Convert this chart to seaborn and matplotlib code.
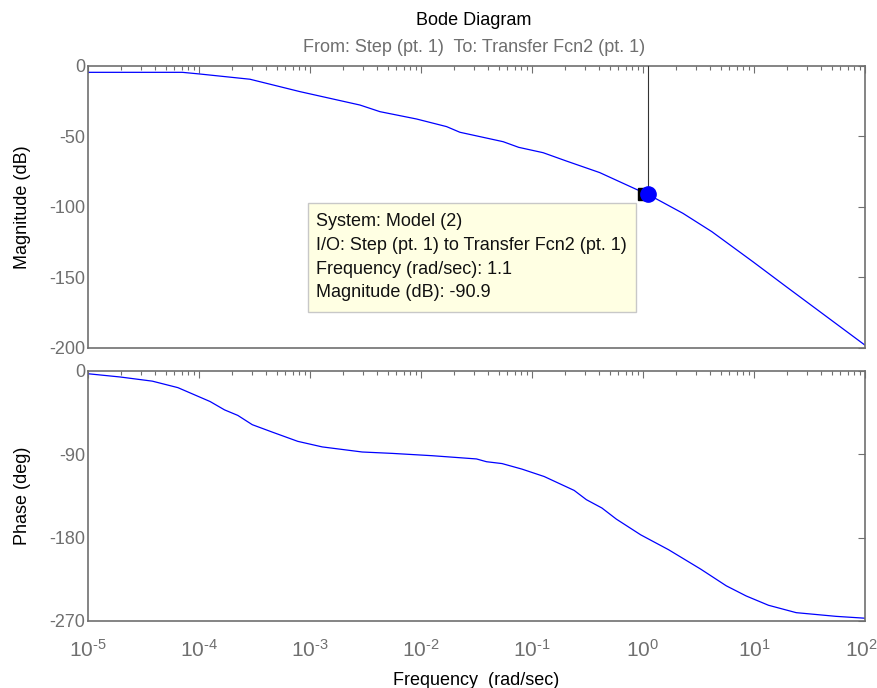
import numpy as np
import pandas as pd
import matplotlib
matplotlib.use("Agg")
import matplotlib.pyplot as plt
import matplotlib.transforms as mtransforms
from matplotlib.patches import Rectangle
from matplotlib.ticker import LogLocator, FixedLocator, FixedFormatter, NullFormatter
import seaborn as sns

# Magnitude response (frequency in rad/sec, magnitude in dB)
mag_freq = [1.0e-5, 7.08e-5, 1.02e-4, 2.88e-4, 8.13e-4, 2.82e-3, 4.27e-3, 9.12e-3,
            0.0170, 0.0224, 0.0550, 0.0759, 0.126, 0.204, 0.407, 0.871, 1.1,
            2.29, 4.17, 9.77, 19.5, 100.0]
mag_db = [-4.5, -4.5, -5.7, -9.4, -18.2, -27.7, -32.4, -37.6,
          -43.0, -47.0, -53.7, -57.7, -61.5, -67.4, -75.6, -87.5, -90.9,
          -104.5, -117.5, -138.8, -156.5, -198.0]

# Phase response (frequency exponent, phase in degrees)
phase_exp = [-5.0, -4.71, -4.42, -4.19, -3.90, -3.77, -3.65, -3.52, -3.34, -3.11,
             -2.89, -2.53, -2.26, -1.90, -1.50, -1.41, -1.27, -1.09, -0.89, -0.62,
             -0.51, -0.37, -0.24, -0.02, 0.23, 0.52, 0.75, 0.93, 1.13, 1.38, 1.74, 2.0]
phase_deg = [-3, -6.5, -11, -18, -33, -42, -48, -58, -66, -76,
             -82, -87.5, -89, -91.5, -95, -98, -100, -106, -114, -129,
             -139, -148, -160, -177, -193, -214, -232, -243, -253, -261, -265, -267]

# Data tip
tip_freq = 1.1
tip_mag = -90.9
tip_lines = ["System: Model (2)",
             "I/O: Step (pt. 1) to Transfer Fcn2 (pt. 1)",
             "Frequency (rad/sec): 1.1",
             "Magnitude (dB): -90.9"]

mag_ticks = [0, -50, -100, -150, -200]
phase_ticks = [0, -90, -180, -270]
decade_exps = [-5, -4, -3, -2, -1, 0, 1, 2]

sns.set_style("white")
plt.rcParams["font.family"] = ["Liberation Sans", "DejaVu Sans"]
plt.rcParams["mathtext.fontset"] = "custom"
plt.rcParams["mathtext.rm"] = "Liberation Sans"
plt.rcParams["mathtext.it"] = "Liberation Sans"
plt.rcParams["axes.unicode_minus"] = False

GRAY = "#6f6f6f"
LINE = "#0000ff"
FS = 13

fig = plt.figure(figsize=(8.78, 6.88), dpi=100)
ax_mag = fig.add_axes([0.1002, 0.4942, 0.8850, 0.4099])
ax_ph = fig.add_axes([0.1002, 0.0974, 0.8850, 0.3634])

df_mag = pd.DataFrame({"freq": mag_freq, "mag": mag_db})
df_ph = pd.DataFrame({"freq": 10.0 ** np.array(phase_exp), "phase": phase_deg})

sns.lineplot(data=df_mag, x="freq", y="mag", ax=ax_mag, color=LINE, lw=0.9,
             sort=False, legend=False)
sns.lineplot(data=df_ph, x="freq", y="phase", ax=ax_ph, color=LINE, lw=0.9,
             sort=False, legend=False)

for ax, ticks in ((ax_mag, mag_ticks), (ax_ph, phase_ticks)):
    ax.set_xscale("log")
    ax.set_xlim(1e-5, 1e2)
    ax.set_ylim(min(ticks), max(ticks))
    ax.set_yticks(ticks)
    ax.set_yticklabels([str(t) for t in ticks])
    ax.xaxis.set_major_locator(FixedLocator([10.0 ** e for e in decade_exps]))
    ax.xaxis.set_minor_locator(LogLocator(base=10, subs=np.arange(2, 10), numticks=20))
    ax.xaxis.set_minor_formatter(NullFormatter())
    for sp in ax.spines.values():
        sp.set_color(GRAY)
        sp.set_linewidth(1.2)
    ax.tick_params(which="both", direction="in", top=True, right=True,
                   color=GRAY, labelcolor=GRAY, labelsize=FS)
    ax.tick_params(which="major", length=5, width=0.8)
    ax.tick_params(which="minor", length=3, width=0.8)
    ax.tick_params(axis="y", pad=2)
    ax.set_xlabel("")
    ax.set_ylabel("")

ax_mag.tick_params(axis="x", which="both", labelbottom=False)
# decade labels with a plain hyphen in the exponent
ax_ph.xaxis.set_major_formatter(FixedFormatter(
    [r"$\mathdefault{10^{\text{%d}}}$" % e for e in decade_exps]))
ax_ph.tick_params(axis="x", which="major", pad=13, labelsize=15)

ax_mag.set_ylabel("Magnitude (dB)", fontsize=FS, color="black")
ax_ph.set_ylabel("Phase (deg)", fontsize=FS, color="black")
ax_mag.yaxis.set_label_coords(-0.0735, 0.5)
ax_ph.yaxis.set_label_coords(-0.0735, 0.5)
ax_ph.set_xlabel("Frequency  (rad/sec)", fontsize=FS, color="black", labelpad=8)

# keep the last decade label inside the figure edge
fig.canvas.draw()
last_lbl = ax_ph.get_xticklabels()[-1]
last_lbl.set_horizontalalignment("right")
last_lbl.set_transform(last_lbl.get_transform() +
                       mtransforms.ScaledTranslation(13 / 100, 0, fig.dpi_scale_trans))

fig.text(0.54, 0.9705, "Bode Diagram", ha="center", va="center", fontsize=FS, color="black")
fig.text(0.54, 0.9315, "From: Step (pt. 1)  To: Transfer Fcn2 (pt. 1)",
         ha="center", va="center", fontsize=FS, color=GRAY)

# Data tip: cursor line, marker and text box
ax_mag.plot([tip_freq, tip_freq], [tip_mag, 0], color="#333333", lw=0.8, zorder=4)
sq_tr = mtransforms.offset_copy(ax_mag.transData, fig=fig, x=-4, y=0, units="dots")
ax_mag.plot([tip_freq], [tip_mag], marker="s", ms=8, color="black",
            transform=sq_tr, zorder=5)
ax_mag.plot([tip_freq], [tip_mag], marker="o", ms=11, color=LINE,
            mec=LINE, zorder=6)

box = Rectangle((0.283, 0.128), 0.422, 0.387, transform=ax_mag.transAxes,
                facecolor="#ffffe3", edgecolor="#c8c8c8", lw=1.0, zorder=7)
ax_mag.add_patch(box)
for y, line in zip([0.447, 0.364, 0.280, 0.197], tip_lines):
    ax_mag.text(0.293, y, line, transform=ax_mag.transAxes, ha="left", va="center",
                fontsize=FS, color="#111111", zorder=8)

fig.savefig("out.png", dpi=100)
